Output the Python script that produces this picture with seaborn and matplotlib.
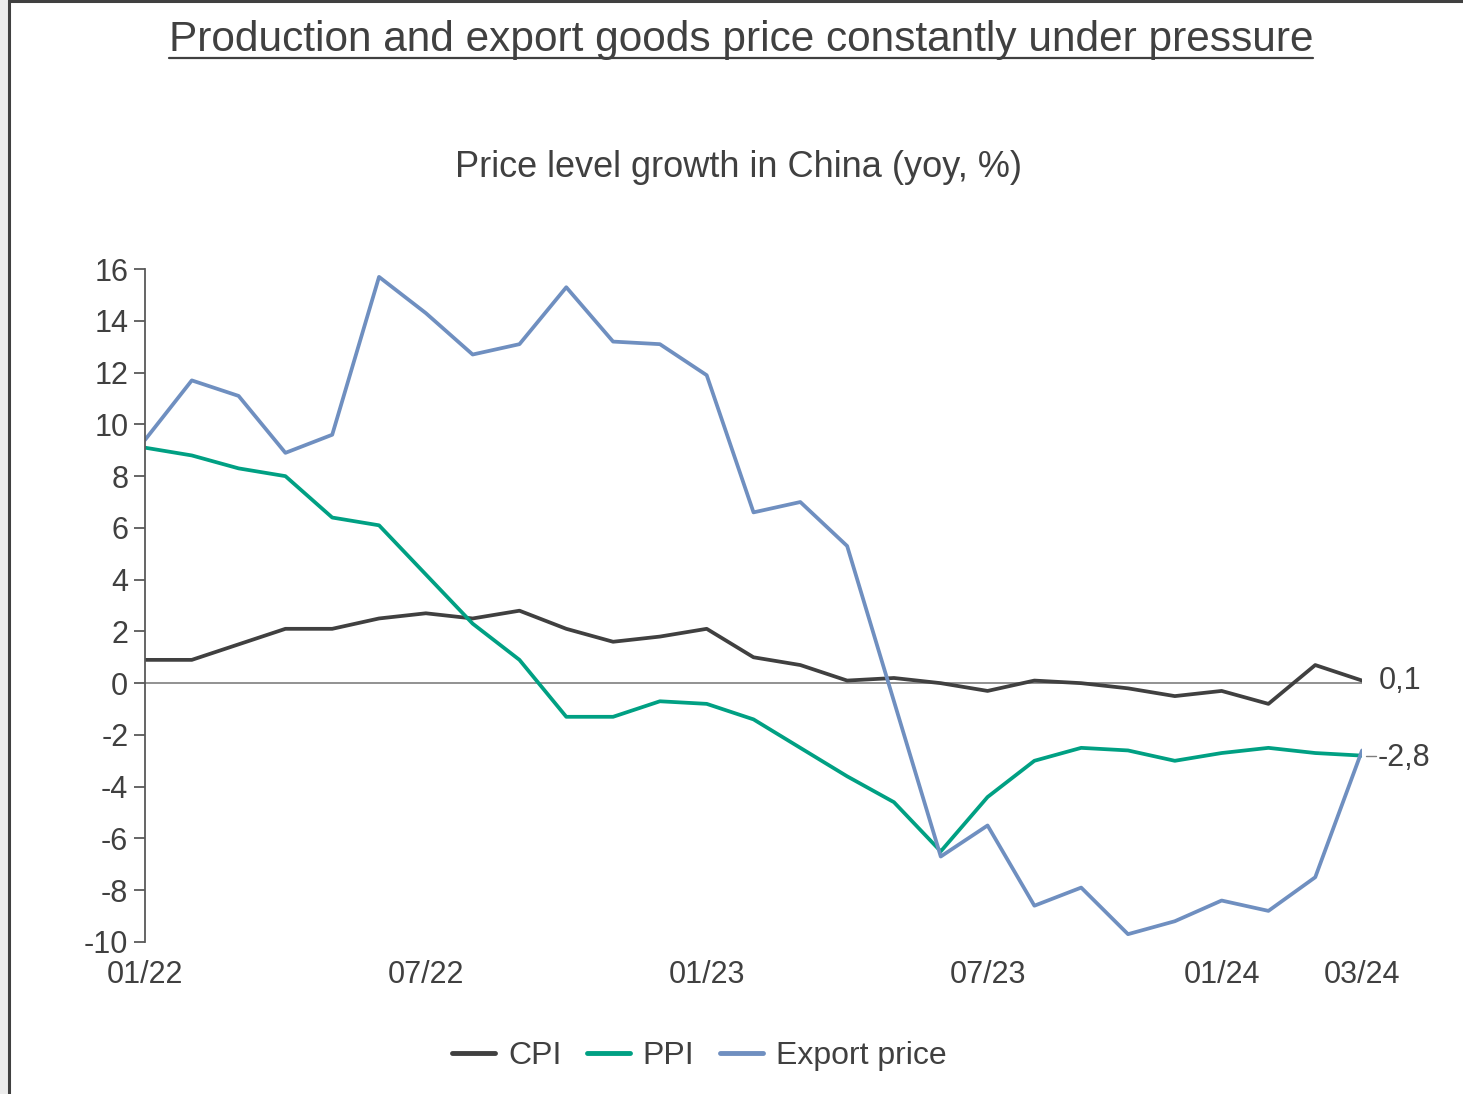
import numpy as np
import pandas as pd
import matplotlib
matplotlib.use("Agg")
import matplotlib.pyplot as plt
import seaborn as sns
from matplotlib.lines import Line2D
from matplotlib.patches import Rectangle

# data (monthly, 01/22 .. 03/24)
months = list(range(27))
cpi = [0.9, 0.9, 1.5, 2.1, 2.1, 2.5, 2.7, 2.5, 2.8, 2.1, 1.6, 1.8, 2.1,
       1.0, 0.7, 0.1, 0.2, 0.0, -0.3, 0.1, 0.0, -0.2, -0.5, -0.3, -0.8, 0.7, 0.1]
ppi = [9.1, 8.8, 8.3, 8.0, 6.4, 6.1, 4.2, 2.3, 0.9, -1.3, -1.3, -0.7, -0.8,
       -1.4, -2.5, -3.6, -4.6, -6.5, -4.4, -3.0, -2.5, -2.6, -3.0, -2.7, -2.5, -2.7, -2.8]
export_price = [9.4, 11.7, 11.1, 8.9, 9.6, 15.7, 14.3, 12.7, 13.1, 15.3, 13.2, 13.1, 11.9,
                6.6, 7.0, 5.3, -0.7, -6.7, -5.5, -8.6, -7.9, -9.7, -9.2, -8.4, -8.8, -7.5, -2.6]
tick_pos = [0, 6, 12, 18, 23, 26]
tick_labels = ["01/22", "07/22", "01/23", "07/23", "01/24", "03/24"]
series = ["CPI", "PPI", "Export price"]
colors = ["#404040", "#00A083", "#6F8FC0"]

df = pd.DataFrame({"month": months * 3,
                   "value": cpi + ppi + export_price,
                   "series": [s for s in series for _ in months]})

sns.set_theme(style="white")
plt.rcParams['font.family'] = ['Liberation Sans', 'DejaVu Sans']
plt.rcParams['axes.unicode_minus'] = False
txt = "#404040"

fig = plt.figure(figsize=(14.63, 10.94), dpi=100)
ax = fig.add_axes([0.0991, 0.139, 0.8319, 0.615])

sns.lineplot(data=df, x="month", y="value", hue="series", palette=colors,
             hue_order=series, linewidth=2.7, ax=ax, legend=False)

ax.axhline(0, color="#7f7f7f", lw=1.2, zorder=0)
ax.set_xlim(0, 26)
ax.set_ylim(-10, 16)
ax.set_yticks(range(-10, 17, 2))
ax.set_xticks(tick_pos)
ax.set_xticklabels(tick_labels)
ax.set_xlabel("")
ax.set_ylabel("")
for s in ["top", "right", "bottom"]:
    ax.spines[s].set_visible(False)
ax.spines["left"].set_color("#595959")
ax.spines["left"].set_linewidth(1.3)
ax.tick_params(axis="y", length=8, width=1.3, color="#595959", left=True,
               labelsize=22, labelcolor=txt, pad=4)
ax.tick_params(axis="x", length=0, labelsize=22, labelcolor=txt, pad=13)

# end labels
ax.annotate("0,1", xy=(26, cpi[-1]), xytext=(12, -0.5), textcoords="offset points",
            va="center", ha="left", fontsize=22, color=txt, annotation_clip=False)
ax.annotate("-2,8", xy=(26, ppi[-1]), xytext=(11, -1.5), textcoords="offset points",
            va="center", ha="left", fontsize=22, color=txt, annotation_clip=False)
ax.plot([26.08, 26.3], [ppi[-1], ppi[-1]], color="#7f7f7f", lw=1, clip_on=False)

# titles
title = fig.text(0.5065, 0.963, "Production and export goods price constantly under pressure",
                 ha="center", va="center", fontsize=30.5, color=txt)
fig.text(0.505, 0.847, "Price level growth in China (yoy, %)",
         ha="center", va="center", fontsize=26, color=txt)

handles = [Line2D([], [], color=c, lw=3.5, solid_capstyle="round") for c in colors]
fig.legend(handles, series, loc="center", bbox_to_anchor=(0.478, 0.035), ncol=3,
           frameon=False, fontsize=23, handlelength=1.35, handletextpad=0.4,
           columnspacing=0.8, labelcolor=txt)

# underline the title
fig.canvas.draw()
bb = title.get_window_extent().transformed(fig.transFigure.inverted())
fig.add_artist(Line2D([bb.x0, bb.x1], [bb.y0 + 0.002, bb.y0 + 0.002],
                      color=txt, lw=1.6, transform=fig.transFigure))

# frame around the chart
fig.add_artist(Rectangle((0, 0), 8 / 1463, 1, transform=fig.transFigure,
                         color="#ececec", zorder=0))
fig.add_artist(Line2D([9 / 1463, 9 / 1463], [0, 1], color="#404040", lw=2.2,
                      transform=fig.transFigure))
fig.add_artist(Line2D([9 / 1463, 1], [1 - 1 / 1094, 1 - 1 / 1094], color="#404040",
                      lw=2.2, transform=fig.transFigure))

fig.savefig("out.png", dpi=100)
